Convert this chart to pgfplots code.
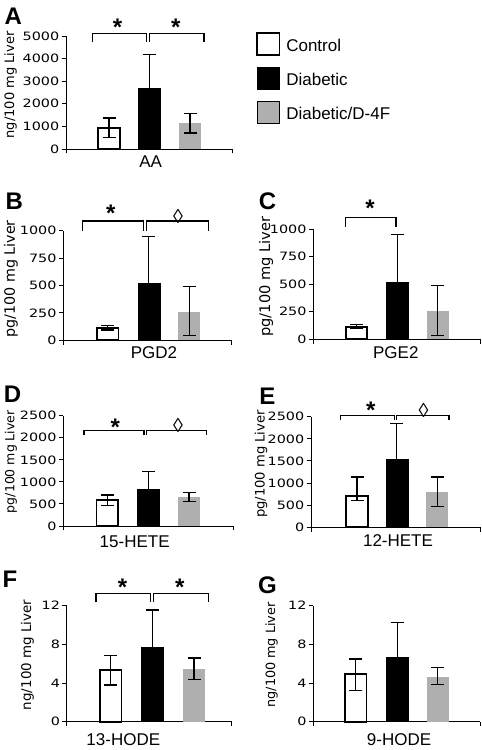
\documentclass[border=0pt]{standalone}
\usepackage{fontspec}
\setmainfont{Liberation Sans}
\newfontfamily\tickfam{DejaVu Sans}[FakeStretch=1.25]
\newfontfamily\dvfam{DejaVu Sans}
\usepackage{pgfplots}
\pgfplotsset{compat=1.18}
\definecolor{barg}{RGB}{175,175,175}
\newcommand\tickfont{\tickfam\fontsize{11.5}{13}\selectfont}
\newcommand\catfont{\fontsize{17}{19}\selectfont}
\newcommand\letfont{\bfseries\fontsize{24}{26}\selectfont}
\newcommand\yl[1]{\dvfam\fontsize{#1}{#1}\selectfont}
\pgfplotsset{
 panel/.style={scale only axis, axis lines=left, axis line style={-, line width=0.9pt},
   xmin=0, ymin=0, clip=false, enlargelimits=false, tick align=outside,
   major tick length=4.3pt, every tick/.style={black, line width=0.9pt},
   yticklabel style={font=\tickfont, inner sep=0pt, xshift=-2.3pt},
   xticklabels={,,}, scaled y ticks=false, /pgf/number format/assume math mode=true},
 eb/.style={error bars/y dir=both, error bars/y explicit,
   error bars/error bar style={line width=1.3pt, black, solid},
   error bars/error mark options={rotate=90, mark size=6.5pt, line width=1.3pt, black}},
 wbar/.style={ybar, bar shift=0pt, bar width=21.5, fill=white, draw=black, line width=1.8pt, eb},
 kbar/.style={ybar, bar shift=0pt, bar width=22, fill=black, draw=black, line width=0.5pt, eb},
 gbar/.style={ybar, bar shift=0pt, bar width=22, fill=barg, draw=none, eb},
 boxlegend/.style={legend image code/.code={\draw[##1] (0pt,-9.2pt) rectangle (22.6pt,13.2pt);}},
}
\begin{document}
\begin{tikzpicture}
\path[use as bounding box] (0pt,0pt) rectangle (482pt,750pt);
% A
\begin{axis}[panel, at={(66pt,601pt)}, anchor=south west, width=166.7pt, height=113pt,
  xmax=166.7, ymax=5000, ytick={0,1000,2000,3000,4000,5000},
  yticklabels={0,1000,2000,3000,4000,5000}, xtick={0,166.7},
  legend style={at={(axis description cs:1.138,1.038)}, anchor=north west, draw=none, fill=none,
    font=\catfont, row sep=10.8pt, column sep=6pt, nodes={inner sep=0pt}, inner sep=0pt},
  legend cell align=left]
\addplot[wbar, boxlegend] coordinates {(43,940) += (0,432) -= (0,440)};
\addlegendentry{Control}
\addplot[kbar, boxlegend] coordinates {(83.7,2684) +- (0,1505)};
\addlegendentry{Diabetic}
\addplot[gbar, boxlegend] coordinates {(124,1136) += (0,442) -= (0,428)};
\addlegendentry{Diabetic/D-4F}
\end{axis}
% B
\begin{axis}[panel, at={(63.3pt,409.7pt)}, anchor=south west, width=168.4pt, height=109.7pt,
  xmax=168.4, ymax=1000, ytick={0,250,500,750,1000}, yticklabels={0,250,500,750,1000}, xtick={0,168.4}]
\addplot[wbar] coordinates {(44.4,115) +- (0,20)};
\addplot[kbar] coordinates {(85.5,517) +- (0,431)};
\addplot[gbar] coordinates {(126,258) += (0,234) -= (0,215)};
\end{axis}
% C
\begin{axis}[panel, at={(313.3pt,410.7pt)}, anchor=south west, width=166.7pt, height=110.3pt,
  xmax=166.7, ymax=1000, ytick={0,250,500,750,1000}, yticklabels={0,250,500,750,1000}, xtick={0,166.7}]
\addplot[wbar] coordinates {(43.3,115) +- (0,18)};
\addplot[kbar] coordinates {(84.2,515) +- (0,433)};
\addplot[gbar] coordinates {(124.2,258) += (0,228) -= (0,225)};
\end{axis}
% D
\begin{axis}[panel, at={(63.3pt,224pt)}, anchor=south west, width=169.7pt, height=110.3pt,
  xmax=169.7, ymax=2500, ytick={0,500,1000,1500,2000,2500}, yticklabels={0,500,1000,1500,2000,2500}, xtick={0,169.7}]
\addplot[wbar] coordinates {(44,598) += (0,107) -= (0,128)};
\addplot[kbar] coordinates {(85,825) +- (0,409)};
\addplot[gbar] coordinates {(125.7,659) += (0,106) -= (0,98)};
\end{axis}
% E
\begin{axis}[panel, at={(311pt,222.7pt)}, anchor=south west, width=169pt, height=110.6pt,
  xmax=169, ymax=2500, ytick={0,500,1000,1500,2000,2500}, yticklabels={0,500,1000,1500,2000,2500}, xtick={0,169}]
\addplot[wbar] coordinates {(46,715) += (0,423) -= (0,104)};
\addplot[kbar] coordinates {(85.8,1529) +- (0,815)};
\addplot[gbar] coordinates {(126.2,805) += (0,333) -= (0,339)};
\end{axis}
% F
\begin{axis}[panel, at={(66.7pt,28.3pt)}, anchor=south west, width=165pt, height=116pt,
  xmax=165, ymax=12, ytick={0,4,8,12}, yticklabels={0,4,8,12}, xtick={0,165}]
\addplot[wbar] coordinates {(44,5.32) += (0,1.55) -= (0,1.52)};
\addplot[kbar] coordinates {(85.5,7.70) +- (0,3.85)};
\addplot[gbar] coordinates {(127.3,5.45) += (0,1.14) -= (0,1.11)};
\end{axis}
% G
\begin{axis}[panel, at={(313.3pt,28.3pt)}, anchor=south west, width=166.7pt, height=116pt,
  xmax=166.7, ymax=12, ytick={0,4,8,12}, yticklabels={0,4,8,12}, xtick={0,166.7}]
\addplot[wbar] coordinates {(42.5,4.90) += (0,1.59) -= (0,1.69)};
\addplot[kbar] coordinates {(83.9,6.66) +- (0,3.62)};
\addplot[gbar] coordinates {(124.4,4.66) += (0,0.93) -= (0,0.83)};
\end{axis}
% annotations in pixel coordinates (y downwards)
\begin{scope}[x=1pt, y=-1pt, shift={(0pt,750pt)}]
\tikzset{br/.style={line width=1.3pt}, st/.style={anchor=north, inner sep=0pt, font=\bfseries\fontsize{24}{24}\selectfont},
  dm/.style={anchor=north, inner sep=0pt, font=\fontsize{20}{20}\selectfont}}
% A
\draw[br] (92.3,42.3) -- (92.3,33.3) -- (146.7,33.3) -- (146.7,42.3);
\draw[br] (149.3,42.3) -- (149.3,33.3) -- (204,33.3) -- (204,42.3);
\node[st] at (117.5,19) {*};
\node[st] at (175.8,19) {*};
% B
\draw[br] (82.7,231) -- (82.7,221) -- (143.3,221) -- (143.3,231);
\draw[br] (146.7,231) -- (146.7,221) -- (208.3,221) -- (208.3,231);
\node[st] at (110.8,204.5) {*};
\node[dm] at (178,209.3) {◊};
% C
\draw[br] (345.7,226.7) -- (345.7,217.7) -- (396,217.7) -- (396,226.7);
\node[st] at (370,199.5) {*};
% D
\draw[br] (84,435.5) -- (84,430.7) -- (144,430.7) -- (144,435.5);
\draw[br] (146.7,435.5) -- (146.7,430.7) -- (206.7,430.7) -- (206.7,435.5);
\node[st] at (115.3,418.3) {*};
\node[dm] at (178,418) {◊};
% E
\draw[br] (340.7,420.5) -- (340.7,415.7) -- (394.3,415.7) -- (394.3,420.5);
\draw[br] (396.7,420.5) -- (396.7,415.7) -- (449,415.7) -- (449,420.5);
\node[st] at (370.8,401.7) {*};
\node[dm] at (423.5,403.3) {◊};
% F
\draw[br] (96,602.3) -- (96,593.3) -- (150.7,593.3) -- (150.7,602.3);
\draw[br] (153.3,602.3) -- (153.3,593.3) -- (208.3,593.3) -- (208.3,602.3);
\node[st] at (122.5,578.5) {*};
\node[st] at (179.8,578.5) {*};
% category labels
\node[font=\catfont] at (150.7,161.5) {AA};
\node[font=\catfont] at (154,352.7) {PGD2};
\node[font=\catfont] at (395.8,352.7) {PGE2};
\node[font=\catfont] at (134.7,541.3) {15-HETE};
\node[font=\catfont] at (398,541) {12-HETE};
\node[font=\catfont] at (123.3,740) {13-HODE};
\node[font=\catfont] at (399,740) {9-HODE};
% panel letters
\node[font=\letfont] at (13.3,16.7) {A};
\node[font=\letfont] at (14.2,200.8) {B};
\node[font=\letfont] at (267.5,201.7) {C};
\node[font=\letfont] at (12.5,394) {D};
\node[font=\letfont] at (267.5,396.7) {E};
\node[font=\letfont] at (10,579) {F};
\node[font=\letfont] at (267.5,585) {G};
% y labels
\node[rotate=90, font=\yl{13}] at (10.5,85) {ng/100 mg Liver};
\node[rotate=90, font=\yl{14.3}] at (11,279) {pg/100 mg Liver};
\node[rotate=90, font=\yl{14.6}] at (266,276.7) {pg/100 mg Liver};
\node[rotate=90, font=\yl{12.5}] at (11,461.7) {pg/100 mg Liver};
\node[rotate=90, font=\yl{13.1}] at (261,464) {pg/100 mg Liver};
\node[rotate=90, font=\yl{13.4}] at (27.5,655) {ng/100 mg Liver};
\node[rotate=90, font=\yl{12.8}] at (271.5,655) {ng/100 mg Liver};
\end{scope}
\end{tikzpicture}
\end{document}
